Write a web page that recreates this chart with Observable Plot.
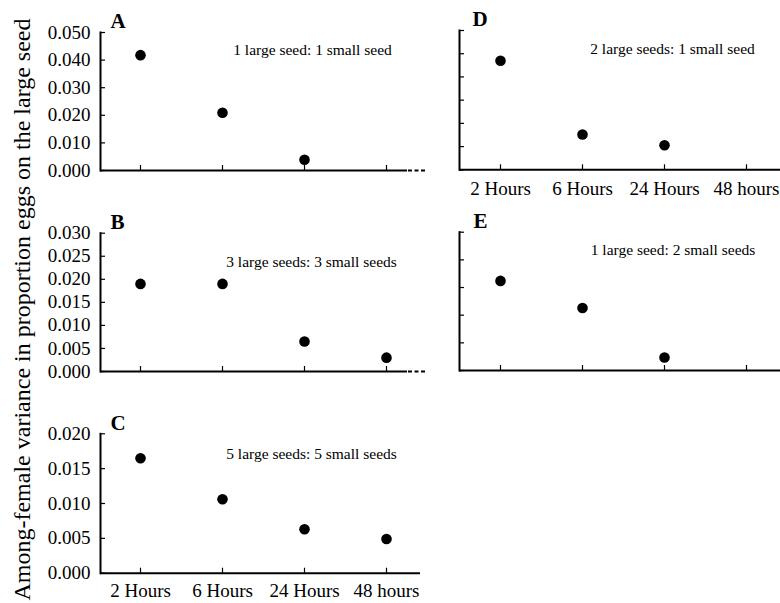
<!DOCTYPE html>
<html><head><meta charset="utf-8">
<script src="https://cdn.jsdelivr.net/npm/d3@7"></script>
<script src="https://cdn.jsdelivr.net/npm/@observablehq/plot@0.6"></script>
<style>
body{margin:0;background:#fff;}
#chart{position:relative;width:780px;height:603px;overflow:hidden;background:#fff;font-family:"Liberation Serif","Times New Roman",serif;}
#chart svg{position:absolute;}
#chart svg text{font-family:"Liberation Serif","Times New Roman",serif;}
</style></head><body><div id="chart"></div>
<script>
// ---- data ----
const hours = ["2 Hours", "6 Hours", "24 Hours", "48 hours"];
const panelLetters = ["A", "B", "C", "D", "E"];
const ratioLabels = [
  "1 large seed: 1 small seed",
  "3 large seeds: 3 small seeds",
  "5 large seeds: 5 small seeds",
  "2 large seeds: 1 small seed",
  "1 large seed: 2 small seeds"
];
const varA = [0.0418, 0.0209, 0.0039];
const varB = [0.0190, 0.0190, 0.0065, 0.0030];
const varC = [0.0165, 0.0106, 0.0063, 0.0049];
const varD = [0.0470, 0.0152, 0.0106];
const varE = [0.0324, 0.0226, 0.0047];
const yTicksA = [0, 0.01, 0.02, 0.03, 0.04, 0.05];
const yTicksB = [0, 0.005, 0.01, 0.015, 0.02, 0.025, 0.03];
const yTicksC = [0, 0.005, 0.01, 0.015, 0.02];
const yTicksD = [0, 0.01, 0.02, 0.03, 0.04, 0.05, 0.06];
const yTicksE = [0, 0.01, 0.02, 0.03, 0.04, 0.05];
const yAxisTitle = "Among-female variance in proportion eggs on the large seed";

// ---- layout (pixel positions, styling only) ----
const layout = [
  {values: varA, ticks: yTicksA, left: 0, top: 0, w: 440, h: 195, fx0: 100, fx1: 427, fy0: 32, fy1: 170, dashed: 20, xr: [140, 386], ann: [212, 17.3], let: [10, -11.4], yLabels: true, xLabels: 0},
  {values: varB, ticks: yTicksB, left: 0, top: 195, w: 440, h: 200, fx0: 100, fx1: 427, fy0: 232.7, fy1: 371, dashed: 20, xr: [140, 386], ann: [211, 29], let: [10, -11.4], yLabels: true, xLabels: 0},
  {values: varC, ticks: yTicksC, left: 0, top: 395, w: 440, h: 208, fx0: 100, fx1: 420, fy0: 433.3, fy1: 572.7, dashed: 0, xr: [140, 386], ann: [211, 20], let: [10, -10.3], yLabels: true, xLabels: 10},
  {values: varD, ticks: yTicksD, left: 440, top: 0, w: 340, h: 205, fx0: 459, fx1: 780, fy0: 30, fy1: 169.3, dashed: 0, xr: [499.3, 746], ann: [213, 19], let: [13, -11.4], yLabels: false, xLabels: 12},
  {values: varE, ticks: yTicksE, left: 440, top: 205, w: 340, h: 190, fx0: 459, fx1: 780, fy0: 231.7, fy1: 370, dashed: 0, xr: [499.3, 746], ann: [213.5, 18.3], let: [14, -10.7], yLabels: false, xLabels: 0}
];

const chart = document.getElementById("chart");
const serif = "Liberation Serif, Times New Roman, serif";

layout.forEach((p, i) => {
  const data = p.values.map((v, j) => ({hour: hours[j], v}));
  const frameW = p.fx1 - p.fx0;
  const frameH = p.fy1 - p.fy0;
  const yMax = p.ticks[p.ticks.length - 1];
  const marks = [];
  if (p.dashed) {
    marks.push(Plot.ruleY([0], {stroke: "black", strokeWidth: 2, insetRight: p.dashed}));
    marks.push(Plot.ruleY([0], {stroke: "black", strokeWidth: 2, strokeDasharray: "4,2.5", insetLeft: frameW - p.dashed + 1}));
  } else {
    marks.push(Plot.ruleY([0], {stroke: "black", strokeWidth: 2}));
  }
  marks.push(Plot.frame({anchor: "left", stroke: "black", strokeWidth: 2}));
  marks.push(Plot.tickY(p.ticks, {y: d => d, stroke: "black", strokeWidth: 1.2, insetRight: frameW - 5}));
  marks.push(Plot.tickX(hours, {x: d => d, stroke: "black", strokeWidth: 1.2, insetTop: frameH - 5}));
  marks.push(Plot.dot(data, {x: "hour", y: "v", r: 5.3, fill: "black", stroke: null}));
  marks.push(Plot.text([ratioLabels[i]], {frameAnchor: "top-left", dx: p.ann[0], dy: p.ann[1], fontSize: 15.5, fontFamily: serif, textAnchor: "middle", lineAnchor: "middle", fill: "black"}));
  marks.push(Plot.text([panelLetters[i]], {frameAnchor: "top-left", dx: p.let[0], dy: p.let[1], fontSize: 21, fontFamily: serif, fontWeight: "bold", textAnchor: "start", lineAnchor: "middle", fill: "black"}));
  if (p.yLabels) marks.push(Plot.axisY({ticks: p.ticks, tickSize: 0, tickPadding: 10, tickFormat: ".3f", fontSize: 19, fontFamily: serif, fontVariant: "normal", fill: "black", label: null}));
  if (p.xLabels) marks.push(Plot.axisX({tickSize: 0, tickPadding: p.xLabels, fontSize: 19, fontFamily: serif, fill: "black", label: null}));

  const svg = Plot.plot({
    width: p.w,
    height: p.h,
    marginLeft: p.fx0 - p.left,
    marginRight: p.left + p.w - p.fx1,
    marginTop: p.fy0 - p.top,
    marginBottom: p.top + p.h - p.fy1,
    style: {fontFamily: serif, background: "transparent", color: "black", overflow: "visible"},
    x: Object.assign({type: "point", domain: hours, padding: 0, range: [p.xr[0] - p.left, p.xr[1] - p.left], label: null}, p.xLabels ? {} : {axis: null}),
    y: Object.assign({domain: [0, yMax], label: null}, p.yLabels ? {} : {axis: null}),
    marks
  });
  svg.style.left = p.left + "px";
  svg.style.top = p.top + "px";
  chart.appendChild(svg);
});

// y-axis title
const ySvg = d3.create("svg").attr("width", 40).attr("height", 603)
  .style("left", "0px").style("top", "0px").style("overflow", "visible");
ySvg.append("text")
  .attr("transform", "translate(30,309.5) rotate(-90)")
  .attr("text-anchor", "middle")
  .attr("font-family", serif)
  .attr("font-size", 24)
  .attr("fill", "black")
  .text(yAxisTitle);
chart.appendChild(ySvg.node());
</script>
</body></html>
